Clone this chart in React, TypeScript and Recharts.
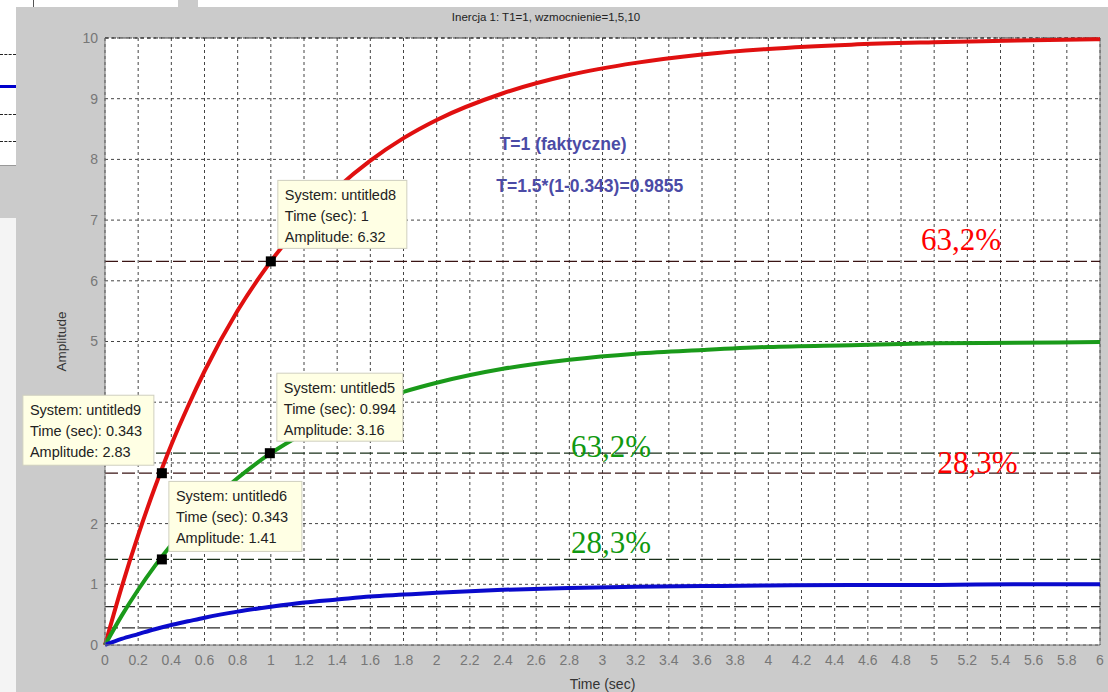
import React from "react";
import {
	LineChart,
	Line,
	XAxis,
	YAxis,
	CartesianGrid,
	ReferenceLine,
	ReferenceDot,
} from "recharts";

// step responses (time in sec)
const time = [0, 0.1, 0.2, 0.3, 0.4, 0.5, 0.6, 0.8, 1, 1.2, 1.4, 1.6, 1.8, 2, 2.4, 2.8, 3.2, 3.6, 4, 4.5, 5, 5.5, 6];
const gain10 = [0, 0.95, 1.81, 2.59, 3.3, 3.93, 4.51, 5.51, 6.32, 6.99, 7.53, 7.98, 8.35, 8.65, 9.09, 9.39, 9.59, 9.73, 9.82, 9.89, 9.93, 9.96, 9.98];
const gain5 = [0, 0.48, 0.91, 1.3, 1.65, 1.97, 2.26, 2.75, 3.16, 3.49, 3.77, 3.99, 4.17, 4.32, 4.55, 4.7, 4.8, 4.86, 4.91, 4.94, 4.97, 4.98, 4.99];
const gain1 = [0, 0.1, 0.18, 0.26, 0.33, 0.39, 0.45, 0.55, 0.63, 0.7, 0.75, 0.8, 0.83, 0.86, 0.91, 0.94, 0.96, 0.97, 0.98, 0.99, 0.99, 1, 1];

const xTicks = [0, 0.2, 0.4, 0.6, 0.8, 1, 1.2, 1.4, 1.6, 1.8, 2, 2.2, 2.4, 2.6, 2.8, 3, 3.2, 3.4, 3.6, 3.8, 4, 4.2, 4.4, 4.6, 4.8, 5, 5.2, 5.4, 5.6, 5.8, 6];
const yTicks = [0, 1, 2, 3, 4, 5, 6, 7, 8, 9, 10];
// tick labels hidden behind the untitled9 data tip
const hiddenYTicks = [3, 4];

// 63.2% / 28.3% levels of each response
const levelValues = [6.32, 2.83, 3.16, 1.41, 0.632, 0.283];
const levelSeries = ["red", "red", "green", "green", "blue", "blue"];

// data tips
const tipNames = ["untitled8", "untitled9", "untitled5", "untitled6"];
const tipTimes = [1, 0.343, 0.994, 0.343];
const tipAmps = [6.32, 2.83, 3.16, 1.41];

// text annotations (data coordinates)
const noteTexts = ["63,2%", "28,3%", "63,2%", "28,3%"];
const noteX = [4.92, 5.02, 2.81, 2.81];
const noteY = [6.51, 2.83, 3.1, 1.52];
const noteSeries = ["red", "red", "green", "green"];

const formulaTexts = ["T=1 (faktyczne)", "T=1.5*(1-0.343)=0.9855"];
const formulaX = [2.38, 2.36];
const formulaY = [8.15, 7.46];

const data = time.map((t, i) => ({ t, k10: gain10[i], k5: gain5[i], k1: gain1[i] }));

const levelColor: Record<string, string> = { red: "#3a1414", green: "#1a301a", blue: "#2a2a2a" };
const noteColor: Record<string, string> = { red: "#ff0000", green: "#119911" };

// box placement relative to the marker (px)
const tipBox = [
	{ dx: 7, dy: -81, w: 129, h: 68 },
	{ dx: -139, dy: -78, w: 131, h: 70 },
	{ dx: 7, dy: -80, w: 126, h: 68 },
	{ dx: 7, dy: -78, w: 133, h: 70 },
];

const font = "'Liberation Sans', Arial, sans-serif";

const YTick = (props: any) => {
	const { x, y, payload } = props;
	if (hiddenYTicks.includes(payload.value)) return null;
	return (
		<text x={x} y={y} dy="0.355em" textAnchor="end" fill="#777" fontSize={14} fontFamily={font}>
			{payload.value}
		</text>
	);
};

const XTick = (props: any) => {
	const { x, payload } = props;
	return (
		<text x={x} y={665} textAnchor="middle" fill="#777" fontSize={14} fontFamily={font}>
			{String(payload.value)}
		</text>
	);
};

const App = () => {
	return (
		<div
			style={{
				position: "absolute",
				left: 0,
				top: 0,
				width: 1108,
				height: 692,
				background: "#cbcbcb",
				overflow: "hidden",
				fontFamily: font,
			}}
		>
			{/* bits of the other window behind */}
			<div style={{ position: "absolute", left: 0, top: 0, width: 178, height: 7, background: "#fff" }} />
			<div style={{ position: "absolute", left: 198, top: 0, width: 910, height: 7, background: "#fff" }} />
			<div style={{ position: "absolute", left: 0, top: 0, width: 16, height: 165, background: "#fff", borderBottom: "1px solid #999" }} />
			<div style={{ position: "absolute", left: 0, top: 218, width: 16, height: 474, background: "#f4f4f4" }} />
			<div style={{ position: "absolute", left: 0, top: 54, width: 16, height: 0, borderTop: "1px dashed #222" }} />
			<div style={{ position: "absolute", left: 0, top: 85, width: 16, height: 3, background: "#0000cc" }} />
			<div style={{ position: "absolute", left: 0, top: 114, width: 16, height: 0, borderTop: "1px dashed #222" }} />
			<div style={{ position: "absolute", left: 0, top: 141, width: 16, height: 0, borderTop: "1px dashed #222" }} />
			<div style={{ position: "absolute", left: 33, top: 0, width: 1, height: 7, background: "#555" }} />

			<div
				style={{
					position: "absolute",
					left: 0,
					width: 1092,
					top: 11,
					textAlign: "center",
					fontSize: 11.5,
					color: "#222",
				}}
			>
				Inercja 1: T1=1, wzmocnienie=1,5,10
			</div>

			<div style={{ position: "absolute", left: 0, top: 0 }}>
				<LineChart
					width={1108}
					height={692}
					data={data}
					margin={{ top: 38, right: 8, left: 0, bottom: 0 }}
				>
					<CartesianGrid
						stroke="#444"
						strokeDasharray="3 3"
						fill="#fff"
						fillOpacity={1}
					/>
					<XAxis
						dataKey="t"
						type="number"
						domain={[0, 6]}
						ticks={xTicks}
						interval={0}
						height={47}
						tickLine={false}
						tick={<XTick />}
						axisLine={{ stroke: "#777" }}
						label={{
							value: "Time (sec)",
							position: "insideBottom",
							offset: 3,
							fill: "#333",
							fontSize: 14,
							fontFamily: font,
						}}
					/>
					<YAxis
						type="number"
						domain={[0, 10]}
						ticks={yTicks}
						interval={0}
						width={105}
						tickLine={false}
						tickSize={5}
						tick={<YTick />}
						axisLine={{ stroke: "#777" }}
						label={{
							content: (p: any) => {
								const vb = p.viewBox || {};
								const cy = vb.y + vb.height / 2;
								return (
									<text
										x={66}
										y={cy}
										transform={`rotate(-90, 66, ${cy})`}
										textAnchor="middle"
										fill="#333"
										fontSize={13.5}
										fontFamily={font}
									>
										Amplitude
									</text>
								);
							},
						}}
					/>
					<ReferenceLine x={6} stroke="#777" strokeWidth={1} />
					<ReferenceLine y={10} stroke="#222" strokeDasharray="4 3" />

					{levelValues.map((v, i) => (
						<ReferenceLine
							key={"lvl" + i}
							y={v}
							stroke={levelColor[levelSeries[i]]}
							strokeWidth={1.3}
							strokeDasharray="13 4"
						/>
					))}

					<Line
						type="monotone"
						dataKey="k10"
						stroke="#e01010"
						strokeWidth={4}
						dot={false}
						isAnimationActive={false}
					/>
					<Line
						type="monotone"
						dataKey="k5"
						stroke="#1a9a1a"
						strokeWidth={4}
						dot={false}
						isAnimationActive={false}
					/>
					<Line
						type="monotone"
						dataKey="k1"
						stroke="#0a0acc"
						strokeWidth={4}
						dot={false}
						isAnimationActive={false}
					/>

					{formulaTexts.map((txt, i) => (
						<ReferenceDot
							key={"f" + i}
							x={formulaX[i]}
							y={formulaY[i]}
							r={0}
							shape={(p: any) => (
								<text
									x={p.cx}
									y={p.cy}
									fill="#4b4ba6"
									fontSize={17.5}
									fontWeight="bold"
									fontFamily={font}
								>
									{txt}
								</text>
							)}
						/>
					))}

					{noteTexts.map((txt, i) => (
						<ReferenceDot
							key={"n" + i}
							x={noteX[i]}
							y={noteY[i]}
							r={0}
							shape={(p: any) => (
								<text
									x={p.cx}
									y={p.cy}
									fill={noteColor[noteSeries[i]]}
									fontSize={31}
									fontFamily="'Liberation Serif', 'Times New Roman', serif"
								>
									{txt}
								</text>
							)}
						/>
					))}

					{tipNames.map((name, i) => (
						<ReferenceDot
							key={"tip" + i}
							x={tipTimes[i]}
							y={tipAmps[i]}
							r={5}
							shape={(p: any) => {
								const b = tipBox[i];
								const bx = p.cx + b.dx;
								const by = p.cy + b.dy;
								return (
									<g>
										<rect
											x={bx}
											y={by}
											width={b.w}
											height={b.h}
											fill="#ffffe4"
											stroke="#cfcfbf"
										/>
										<text x={bx + 7} y={by + 20} fill="#222" fontSize={14.5} fontFamily={font}>
											System: {name}
										</text>
										<text x={bx + 7} y={by + 41} fill="#222" fontSize={14.5} fontFamily={font}>
											Time (sec): {tipTimes[i]}
										</text>
										<text x={bx + 7} y={by + 62} fill="#222" fontSize={14.5} fontFamily={font}>
											Amplitude: {tipAmps[i]}
										</text>
										<rect x={p.cx - 5} y={p.cy - 5} width={10} height={10} fill="#000" />
									</g>
								);
							}}
						/>
					))}
				</LineChart>
			</div>
		</div>
	);
};

export default App;
